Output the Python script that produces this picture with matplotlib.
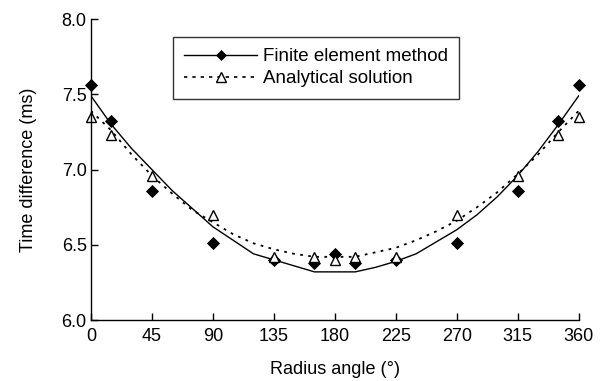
import numpy as np
import matplotlib.pyplot as plt

plt.rcParams['font.family'] = ['Liberation Sans', 'DejaVu Sans']

# measured time differences at each radius angle
angles = [0, 15, 45, 90, 135, 165, 180, 195, 225, 270, 315, 345, 360]
fem_pts = [7.56, 7.32, 6.86, 6.51, 6.40, 6.38, 6.44, 6.38, 6.40, 6.51, 6.86, 7.32, 7.56]
ana_pts = [7.35, 7.23, 6.96, 6.70, 6.42, 6.42, 6.40, 6.42, 6.42, 6.70, 6.96, 7.23, 7.35]

# trend curves sampled every 15 degrees
curve_angles = list(range(0, 361, 15))
fem_curve = [7.49, 7.30, 7.14, 7.00, 6.86, 6.74, 6.62, 6.53, 6.44, 6.40, 6.36, 6.32, 6.32,
             6.32, 6.35, 6.39, 6.44, 6.52, 6.60, 6.70, 6.82, 6.96, 7.12, 7.30, 7.49]
ana_curve = [7.39, 7.26, 7.10, 6.96, 6.84, 6.73, 6.65, 6.57, 6.51, 6.47, 6.44, 6.42, 6.42,
             6.42, 6.45, 6.48, 6.53, 6.59, 6.66, 6.75, 6.85, 6.97, 7.10, 7.25, 7.39]

xticks = [0, 45, 90, 135, 180, 225, 270, 315, 360]
yticks = [6.0, 6.5, 7.0, 7.5, 8.0]

fig = plt.figure(figsize=(6.06, 3.81), dpi=100)
ax = fig.add_axes([0.1500, 0.160, 0.8050, 0.790])

ax.plot(curve_angles, fem_curve, color='black', lw=1.0)
ax.plot(curve_angles, ana_curve, color='black', lw=1.3, ls=(0, (1.5, 3)))
ax.plot(angles, fem_pts, ls='none', marker='D', ms=5.8, mew=0.6, color='black',
        clip_on=False)
ax.plot(angles, ana_pts, ls='none', marker='^', ms=7.5, mfc='white', mec='black',
        mew=1.0, clip_on=False)

# legend proxies: line + marker sample
h1, = ax.plot([], [], color='black', lw=1.0, marker='D', ms=4.8, mew=0.5)
h2, = ax.plot([], [], color='black', lw=1.2, ls=(0, (2, 3)), marker='^', ms=6.5,
              mfc='white', mec='black')
leg = ax.legend([h1, h2], ['Finite element method', 'Analytical solution'],
                loc='upper left', bbox_to_anchor=(0.168, 0.94), fontsize=13.5,
                frameon=True, fancybox=False, edgecolor='black', handlelength=3.9,
                handletextpad=0.3, borderpad=0.6, labelspacing=0.25, borderaxespad=0)
leg.get_frame().set_linewidth(1.0)

ax.set_xlim(0, 360)
ax.set_ylim(6.0, 8.0)
ax.set_xticks(xticks)
ax.set_yticks(yticks)
ax.set_yticklabels([f'{v:.1f}' for v in yticks])
ax.tick_params(axis='x', direction='in', length=5, width=1, labelsize=13, pad=6)
ax.tick_params(axis='y', direction='in', length=5, width=1, labelsize=13, pad=3)
for s in ['top', 'right']:
    ax.spines[s].set_visible(False)
for s in ['left', 'bottom']:
    ax.spines[s].set_linewidth(1.0)

ax.set_xlabel('Radius angle (°)', fontsize=13, labelpad=11)
ax.set_ylabel('Time difference (ms)', fontsize=13, labelpad=18)

fig.savefig('out.png', dpi=100)
